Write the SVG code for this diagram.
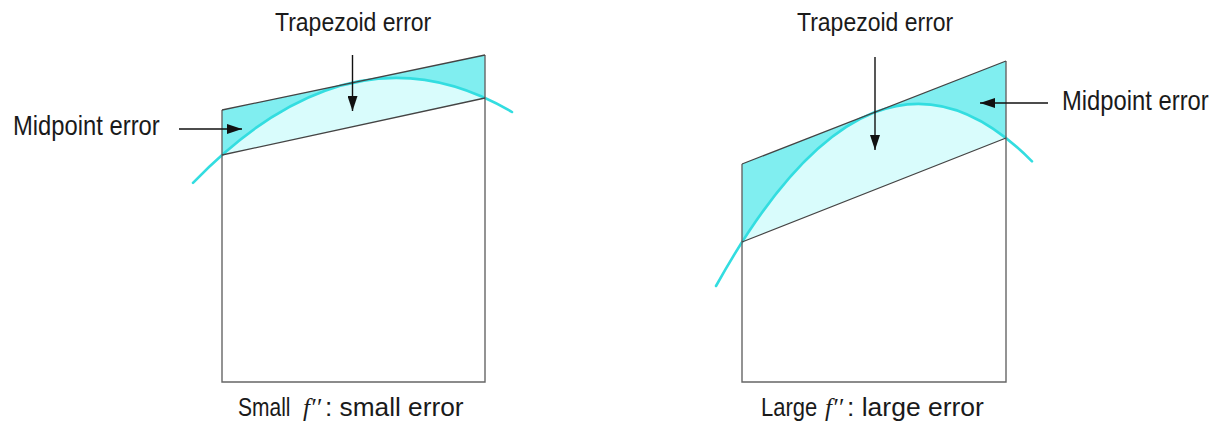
<svg xmlns="http://www.w3.org/2000/svg" width="1230" height="433" viewBox="0 0 1230 433">
<defs>
<style>
.light{fill:#d9fcfc;stroke:none}
.dark{fill:#80eef0;stroke:none}
.curve{fill:none;stroke:#33dde0;stroke-width:2.6;stroke-linecap:round}
.edge{fill:none;stroke:#444;stroke-width:1.3}
.side{fill:none;stroke:#666;stroke-width:1.4}
.arrow{fill:none;stroke:#111;stroke-width:1.4}
.lbl{font-family:"Liberation Sans",Arial,sans-serif;fill:#1a1a1a}
.trap{font-size:23px}
.mid{font-size:23.8px}
.cap{font-size:25px}
.math{font-family:"Liberation Serif","Times New Roman",serif;font-style:italic;font-size:25px;fill:#1a1a1a}
</style>
<marker id="ah" markerUnits="userSpaceOnUse" markerWidth="16" markerHeight="10" refX="15" refY="5" orient="auto">
<path d="M0,0 L15,5 L0,10 Z" fill="#111"/>
</marker>
</defs>
<rect width="1230" height="433" fill="#fff"/>

<g id="left-plot">
<path class="light" d="M222,110 L485,55 L485,98 L222,155 Z"/>
<path class="dark" d="M222,110 L485,55 L485,98 Q353.5,38.5 222,155 Z"/>
<path class="curve" d="M193,182.8 Q352.5,18 512,112"/>
<path class="side" d="M222,110 L222,382 L485,382 L485,55"/>
<path class="edge" d="M222,110 L485,55 M222,155 L485,98"/>
</g>

<g id="right-plot">
<path class="light" d="M742,164 L1006,61 L1006,138 L742,242 Z"/>
<path class="dark" d="M742,164 L1006,61 L1006,138 Q874,35 742,242 Z"/>
<path class="curve" d="M716,286 Q874,1.5 1032,161.3"/>
<path class="side" d="M742,164 L742,382 L1006,382 L1006,61"/>
<path class="edge" d="M742,164 L1006,61 M742,242 L1006,138"/>
</g>

<g id="connectors">
<line class="arrow" x1="352.5" y1="55" x2="352.5" y2="111" marker-end="url(#ah)"/>
<line class="arrow" x1="179" y1="129" x2="242" y2="129" marker-end="url(#ah)"/>
<line class="arrow" x1="875" y1="57" x2="875" y2="150" marker-end="url(#ah)"/>
<line class="arrow" x1="1048" y1="103" x2="980" y2="103" marker-end="url(#ah)"/>
</g>

<g id="label-trap-left"><text class="lbl trap" transform="translate(275,31) scale(1,1.1)">Trapezoid error</text></g>
<g id="label-mid-left"><text class="lbl mid" transform="translate(13,135) scale(1,1.15)">Midpoint error</text></g>
<g id="label-trap-right"><text class="lbl trap" transform="translate(797,31) scale(1,1.1)">Trapezoid error</text></g>
<g id="label-mid-right"><text class="lbl mid" transform="translate(1062,110) scale(1,1.15)">Midpoint error</text></g>

<g id="caption-left">
<text class="lbl cap" transform="translate(238,416) scale(0.84,1)">Small</text>
<text class="math" x="303" y="416">f′′</text>
<text class="lbl cap" transform="translate(325,416) scale(1.05,1)">: small error</text>
</g>
<g id="caption-right">
<text class="lbl cap" transform="translate(761,416) scale(0.88,1)">Large</text>
<text class="math" x="825" y="416">f′′</text>
<text class="lbl cap" transform="translate(847,416) scale(1.06,1)">: large error</text>
</g>
</svg>
